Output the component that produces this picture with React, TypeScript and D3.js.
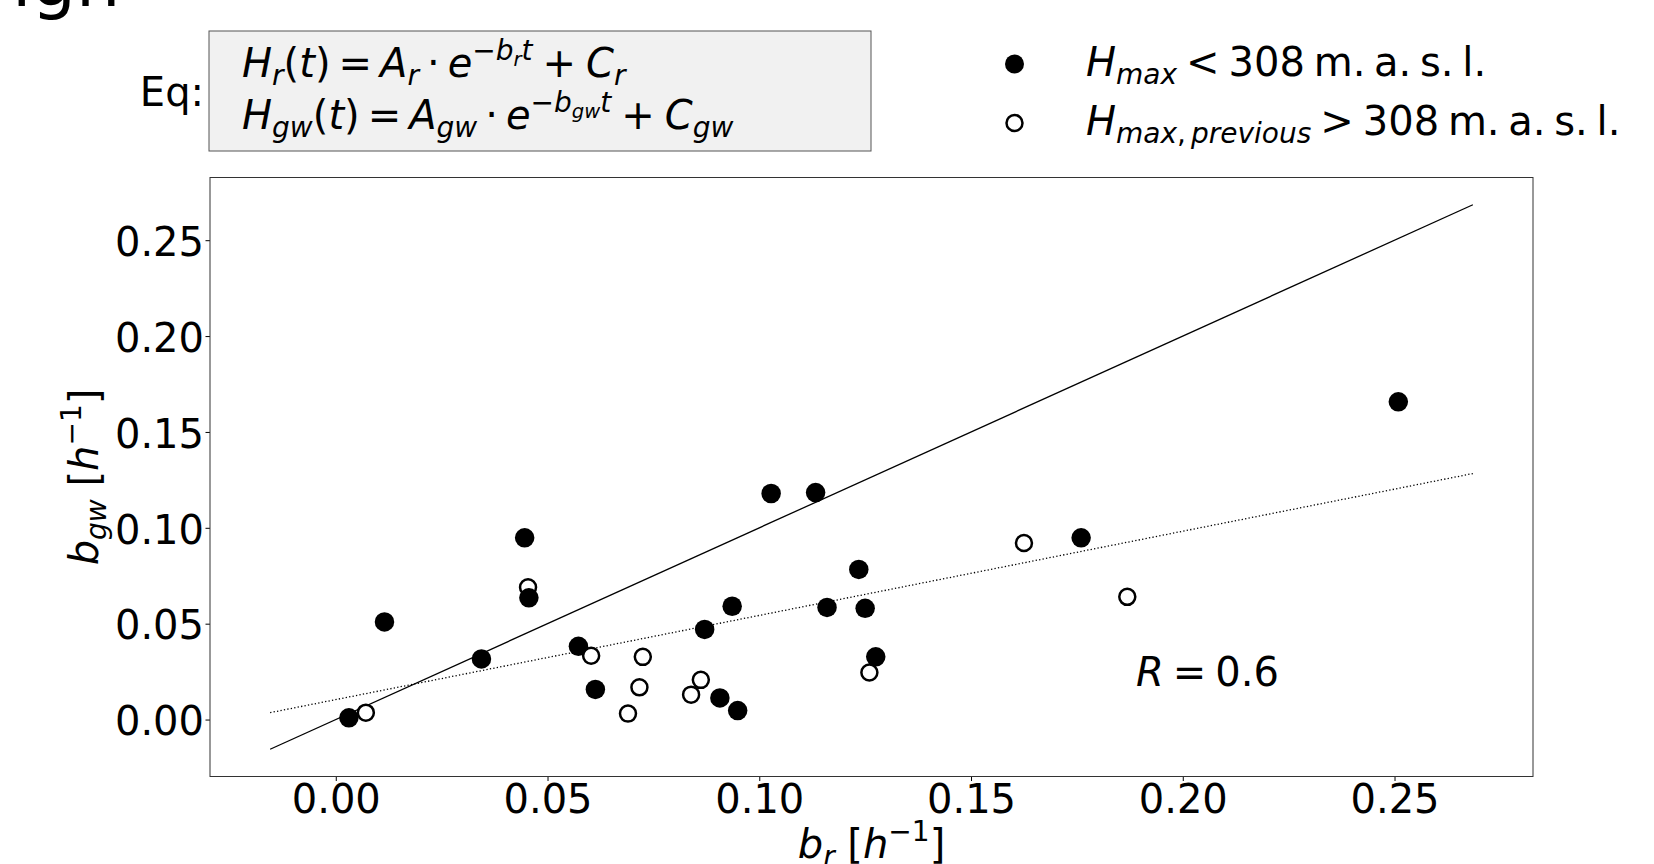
import React, { useEffect, useRef } from 'react';
import * as d3 from 'd3';

// recession constants per event, in plotting order
const brValues = [0.0031, 0.0071, 0.0115, 0.0344, 0.0446, 0.0454, 0.0456, 0.0573, 0.0603, 0.0613,
  0.0690, 0.0717, 0.0725, 0.0839, 0.0862, 0.0871, 0.0907, 0.0936, 0.0949, 0.1028,
  0.1133, 0.1160, 0.1235, 0.1250, 0.1260, 0.1275, 0.1760, 0.1625, 0.1869, 0.2509];
const bgwValues = [0.0009, 0.0036, 0.0509, 0.0316, 0.0948, 0.0690, 0.0635, 0.0382, 0.0333, 0.0157,
  0.0031, 0.0168, 0.0327, 0.0130, 0.0207, 0.0470, 0.0113, 0.0591, 0.0047, 0.1179,
  0.1184, 0.0585, 0.0783, 0.0580, 0.0245, 0.0327, 0.0948, 0.0921, 0.0640, 0.1657];
// true: H_max < 308 m a.s.l. (filled), false: previous H_max > 308 (open)
const belowLimit = [true, false, true, true, true, false, true, true, false, true,
  false, false, false, false, false, true, true, true, true, true,
  true, true, true, true, false, true, true, false, false, true];

// 1:1 line and trend line end points
const lineX = [-0.0155, 0.2685];
const oneToOneY = [-0.0155, 0.2685];
const trendY = [0.0036, 0.1283];

const tickValues = [0, 0.05, 0.1, 0.15, 0.2, 0.25];
const axisDomain = [-0.0297, 0.2827];

const FONT = 'DejaVu Sans';
const SIZE = 40;

type Seg = { t: string; it?: boolean; lv?: string; dx?: number; ws?: number };
const LEVELS: Record<string, number[]> = {
  n: [1, 0],
  sub: [0.7, 0.2],
  sup: [0.7, -0.42],
  ss: [0.49, -0.28],
};

// mathtext-like text with tspans
function mathText(parent: any, x: number, y: number, segs: Seg[], size: number, anchor = 'start') {
  const text = parent.append('text')
    .attr('x', x).attr('y', y)
    .attr('font-size', size)
    .attr('text-anchor', anchor)
    .style('white-space', 'pre');
  let cur = 0;
  segs.forEach((s) => {
    const lv = LEVELS[s.lv || 'n'];
    const target = lv[1] * size;
    const ts = text.append('tspan')
      .attr('dy', target - cur)
      .attr('dx', s.dx || 0)
      .attr('font-size', size * lv[0])
      .attr('font-style', s.it ? 'italic' : 'normal')
      .text(s.t);
    if (s.ws) ts.attr('word-spacing', s.ws);
    cur = target;
  });
  return text;
}

const App = () => {
  const ref = useRef<SVGSVGElement>(null);

  useEffect(() => {
    const w = 1654;
    const h = 864;
    const svg = d3.select(ref.current);
    svg.selectAll('*').remove();
    svg.attr('width', w).attr('height', h).attr('font-family', FONT);

    const left = 210, right = 1533, top = 177.5, bottom = 776.5;

    const x = d3.scaleLinear().domain(axisDomain).range([left, right]);
    const y = d3.scaleLinear().domain(axisDomain).range([bottom, top]);

    // cut-off title above the figure
    svg.append('text').attr('x', 12).attr('y', 6).attr('font-size', 70).text('igh');

    // equation box
    svg.append('rect')
      .attr('x', 209).attr('y', 31).attr('width', 662).attr('height', 120)
      .attr('fill', '#f1f1f1').attr('stroke', '#555').attr('stroke-width', 1);
    svg.append('text').attr('x', 204).attr('y', 106).attr('font-size', SIZE)
      .attr('text-anchor', 'end').text('Eq:');

    mathText(svg, 242, 77, [
      { t: 'H', it: true }, { t: 'r', it: true, lv: 'sub' }, { t: '(' }, { t: 't', it: true }, { t: ')' },
      { t: '=', dx: 8 }, { t: 'A', it: true, dx: 8 }, { t: 'r', it: true, lv: 'sub' },
      { t: '·', dx: 8 }, { t: 'e', it: true, dx: 8 }, { t: '−', lv: 'sup' }, { t: 'b', it: true, lv: 'sup' },
      { t: 'r', it: true, lv: 'ss' }, { t: 't', it: true, lv: 'sup' },
      { t: '+', dx: 10 }, { t: 'C', it: true, dx: 10 }, { t: 'r', it: true, lv: 'sub' },
    ], SIZE);
    mathText(svg, 242, 129, [
      { t: 'H', it: true }, { t: 'gw', it: true, lv: 'sub' }, { t: '(' }, { t: 't', it: true }, { t: ')' },
      { t: '=', dx: 8 }, { t: 'A', it: true, dx: 8 }, { t: 'gw', it: true, lv: 'sub' },
      { t: '·', dx: 8 }, { t: 'e', it: true, dx: 8 }, { t: '−', lv: 'sup' }, { t: 'b', it: true, lv: 'sup' },
      { t: 'gw', it: true, lv: 'ss' }, { t: 't', it: true, lv: 'sup' },
      { t: '+', dx: 10 }, { t: 'C', it: true, dx: 10 }, { t: 'gw', it: true, lv: 'sub' },
    ], SIZE);

    // legend
    svg.append('circle').attr('cx', 1014.5).attr('cy', 64).attr('r', 9.5).attr('fill', '#000');
    svg.append('circle').attr('cx', 1014.5).attr('cy', 123).attr('r', 8)
      .attr('fill', '#fff').attr('stroke', '#000').attr('stroke-width', 2.5);
    mathText(svg, 1086, 76, [
      { t: 'H', it: true }, { t: 'max', it: true, lv: 'sub' },
      { t: '<', dx: 9 }, { t: '308 m. a. s. l.', dx: 9, ws: -4 },
    ], SIZE);
    mathText(svg, 1086, 135, [
      { t: 'H', it: true }, { t: 'max', it: true, lv: 'sub' }, { t: ',', lv: 'sub' },
      { t: 'previous', it: true, lv: 'sub', dx: 5 },
      { t: '>', dx: 9 }, { t: '308 m. a. s. l.', dx: 9, ws: -4 },
    ], SIZE);

    // axes
    const xAxis = d3.axisBottom(x).tickValues(tickValues)
      .tickFormat(d3.format('.2f')).tickSizeOuter(0).tickSize(4.5).tickPadding(4);
    const gx = svg.append('g').attr('transform', `translate(0,${bottom})`).call(xAxis as any);
    gx.select('.domain').remove();
    gx.attr('font-size', SIZE).attr('font-family', FONT);
    gx.selectAll('text').attr('fill', '#000');
    gx.selectAll('line').attr('stroke', '#000');

    const yAxis = d3.axisLeft(y).tickValues(tickValues)
      .tickFormat(d3.format('.2f')).tickSizeOuter(0).tickSize(4.5).tickPadding(1.5);
    const gy = svg.append('g').attr('transform', `translate(${left},0)`).call(yAxis as any);
    gy.select('.domain').remove();
    gy.attr('font-size', SIZE).attr('font-family', FONT);
    gy.selectAll('text').attr('fill', '#000').attr('dy', '0.38em');
    gy.selectAll('line').attr('stroke', '#000');

    svg.append('rect')
      .attr('x', left).attr('y', top).attr('width', right - left).attr('height', bottom - top)
      .attr('fill', 'none').attr('stroke', '#333').attr('stroke-width', 1);

    // lines
    const line = d3.line<number>().x((d, i) => x(lineX[i])).y((d) => y(d));
    svg.append('path').attr('d', line(oneToOneY))
      .attr('fill', 'none').attr('stroke', '#000').attr('stroke-width', 1.3);
    svg.append('path').attr('d', line(trendY))
      .attr('fill', 'none').attr('stroke', '#000').attr('stroke-width', 1.3)
      .attr('stroke-dasharray', '1.3,2.2');

    // points
    svg.append('g').selectAll('circle')
      .data(brValues)
      .enter()
      .append('circle')
      .attr('cx', (d) => x(d))
      .attr('cy', (d, i) => y(bgwValues[i]))
      .attr('r', (d, i) => (belowLimit[i] ? 9.75 : 8))
      .attr('fill', (d, i) => (belowLimit[i] ? '#000' : '#fff'))
      .attr('stroke', (d, i) => (belowLimit[i] ? 'none' : '#000'))
      .attr('stroke-width', 2.5);

    mathText(svg, 1136, 686, [
      { t: 'R', it: true }, { t: '=', dx: 9 }, { t: '0.6', dx: 9 },
    ], SIZE);

    // axis labels
    mathText(svg, (left + right) / 2, 858, [
      { t: 'b', it: true }, { t: 'r', it: true, lv: 'sub' }, { t: ' [' }, { t: 'h', it: true },
      { t: '−1', lv: 'sup' }, { t: ']' },
    ], SIZE, 'middle');
    const yl = svg.append('g').attr('transform', `translate(98,${(top + bottom) / 2}) rotate(-90)`);
    mathText(yl, 0, 0, [
      { t: 'b', it: true }, { t: 'gw', it: true, lv: 'sub' }, { t: ' [' }, { t: 'h', it: true },
      { t: '−1', lv: 'sup' }, { t: ']' },
    ], SIZE, 'middle');
  }, []);

  return <svg ref={ref} style={{ position: 'absolute', left: 0, top: 0 }}></svg>;
};

export default App;
